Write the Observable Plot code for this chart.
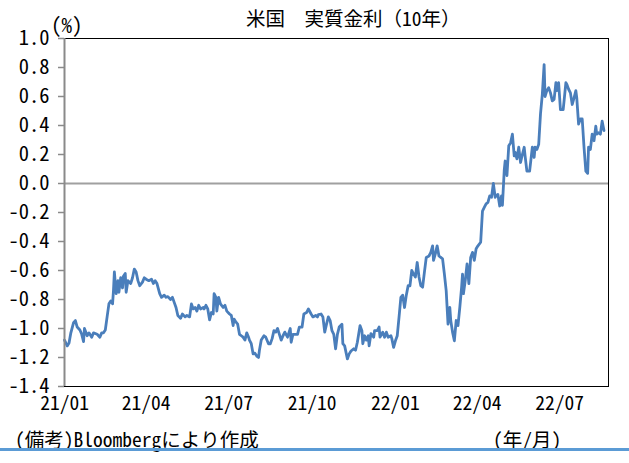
<!DOCTYPE html>
<html>
<head>
<meta charset="utf-8">
<script src="https://cdn.jsdelivr.net/npm/d3@7"></script>
<script src="https://cdn.jsdelivr.net/npm/@observablehq/plot@0.6"></script>
<style>
  html, body { margin: 0; padding: 0; background: #fff; }
  #wrap { position: relative; width: 629px; height: 463px; overflow: hidden; background: #fff; }
  #chart { position: absolute; left: 0; top: 0; }
  .lbl { position: absolute; white-space: nowrap; color: #000;
         font-family: "Noto Sans Mono CJK JP", "Noto Sans CJK JP", monospace; }
  #title { left: 246px; top: 8px; font-size: 19.5px; line-height: 20px; }
  #unit { left: 51px; top: 14px; font-size: 21px; line-height: 21px; }
  #note { left: 15px; top: 429px; font-size: 19.5px; line-height: 20px; }
  #ym { left: 493px; top: 429px; font-size: 19.5px; line-height: 20px; }
  #bar { position: absolute; left: 0; top: 448px; width: 629px; height: 3px; background: #5b9bd5; }
</style>
</head>
<body>
<div id="wrap">
  <div id="chart"></div>
  <div class="lbl" id="title">米国　実質金利（10年）</div>
  <div class="lbl" id="unit">(%)</div>
  <div class="lbl" id="note">(備考)Bloombergにより作成</div>
  <div class="lbl" id="ym">(年/月)</div>
  <div id="bar"></div>
</div>
<script>
const dates = [
"2021-01-01","2021-01-04","2021-01-06","2021-01-08","2021-01-11","2021-01-13","2021-01-15","2021-01-18","2021-01-20","2021-01-22",
"2021-01-23","2021-01-26","2021-01-28","2021-01-31","2021-02-02","2021-02-06","2021-02-09","2021-02-11","2021-02-13","2021-02-15",
"2021-02-17","2021-02-19","2021-02-21","2021-02-23","2021-02-24","2021-02-25","2021-02-27","2021-03-01","2021-03-02","2021-03-04",
"2021-03-06","2021-03-07","2021-03-09","2021-03-10","2021-03-12","2021-03-15","2021-03-17","2021-03-19","2021-03-21","2021-03-23",
"2021-03-25","2021-03-28","2021-03-30","2021-04-01","2021-04-04","2021-04-07","2021-04-09","2021-04-11","2021-04-13","2021-04-16",
"2021-04-18","2021-04-21","2021-04-23","2021-04-25","2021-04-28","2021-04-30","2021-05-02","2021-05-04","2021-05-06","2021-05-09",
"2021-05-11","2021-05-14","2021-05-16","2021-05-19","2021-05-21","2021-05-23","2021-05-25","2021-05-27","2021-05-29","2021-05-31",
"2021-06-03","2021-06-04","2021-06-06","2021-06-08","2021-06-10","2021-06-12","2021-06-14","2021-06-15","2021-06-17","2021-06-18",
"2021-06-20","2021-06-22","2021-06-25","2021-06-27","2021-06-29","2021-07-02","2021-07-04","2021-07-06","2021-07-07","2021-07-09",
"2021-07-11","2021-07-13","2021-07-15","2021-07-17","2021-07-19","2021-07-21","2021-07-23","2021-07-24","2021-07-26","2021-07-28",
"2021-07-30","2021-08-01","2021-08-03","2021-08-04","2021-08-06","2021-08-09","2021-08-11","2021-08-14","2021-08-16","2021-08-18",
"2021-08-20","2021-08-22","2021-08-24","2021-08-26","2021-08-28","2021-08-30","2021-09-01","2021-09-04","2021-09-07","2021-09-08",
"2021-09-10","2021-09-13","2021-09-15","2021-09-17","2021-09-20","2021-09-22","2021-09-25","2021-09-27","2021-09-30","2021-10-02",
"2021-10-05","2021-10-07","2021-10-08","2021-10-11","2021-10-13","2021-10-15","2021-10-17","2021-10-19","2021-10-21","2021-10-23",
"2021-10-25","2021-10-27","2021-10-29","2021-10-31","2021-11-03","2021-11-04","2021-11-06","2021-11-09","2021-11-11","2021-11-13",
"2021-11-16","2021-11-18","2021-11-20","2021-11-23","2021-11-25","2021-11-26","2021-11-28","2021-11-30","2021-12-02","2021-12-03",
"2021-12-05","2021-12-08","2021-12-09","2021-12-12","2021-12-14","2021-12-15","2021-12-18","2021-12-20","2021-12-22","2021-12-24",
"2021-12-27","2021-12-28","2021-12-30","2022-01-01","2022-01-03","2022-01-05","2022-01-07","2022-01-09","2022-01-11","2022-01-13",
"2022-01-15","2022-01-17","2022-01-19","2022-01-21","2022-01-23","2022-01-25","2022-01-27","2022-01-29","2022-01-31","2022-02-02",
"2022-02-04","2022-02-07","2022-02-09","2022-02-11","2022-02-12","2022-02-14","2022-02-16","2022-02-18","2022-02-20","2022-02-22",
"2022-02-24","2022-02-26","2022-02-28","2022-03-02","2022-03-03","2022-03-05","2022-03-07","2022-03-09","2022-03-11","2022-03-13",
"2022-03-15","2022-03-16","2022-03-17","2022-03-19","2022-03-21","2022-03-23","2022-03-25","2022-03-27","2022-03-29","2022-03-31",
"2022-04-02","2022-04-05","2022-04-07","2022-04-09","2022-04-11","2022-04-13","2022-04-15","2022-04-17","2022-04-19","2022-04-21",
"2022-04-22","2022-04-24","2022-04-26","2022-04-28","2022-04-29","2022-05-01","2022-05-02","2022-05-04","2022-05-06","2022-05-08",
"2022-05-10","2022-05-12","2022-05-13","2022-05-15","2022-05-17","2022-05-19","2022-05-21","2022-05-23","2022-05-24","2022-05-26",
"2022-05-29","2022-06-01","2022-06-03","2022-06-04","2022-06-06","2022-06-08","2022-06-10","2022-06-12","2022-06-14","2022-06-15",
"2022-06-17","2022-06-19","2022-06-21","2022-06-23","2022-06-25","2022-06-27","2022-06-28","2022-06-30","2022-07-02","2022-07-05",
"2022-07-06","2022-07-08","2022-07-09","2022-07-11","2022-07-13","2022-07-15","2022-07-17","2022-07-19","2022-07-20","2022-07-22",
"2022-07-24","2022-07-26","2022-07-28","2022-07-30","2022-08-01","2022-08-02","2022-08-04","2022-08-06","2022-08-08","2022-08-10",
"2022-08-11","2022-08-13","2022-08-15","2022-08-17","2022-08-19"
];
const values = [
-1.08,-1.12,-1.10,-1.03,-0.96,-0.945,-0.99,-1.01,-1.04,-1.09,
-1.00,-1.05,-1.03,-1.06,-1.03,-1.04,-1.06,-1.03,-1.03,-1.01,
-0.92,-0.83,-0.81,-0.83,-0.74,-0.61,-0.76,-0.67,-0.75,-0.65,
-0.72,-0.64,-0.62,-0.75,-0.67,-0.69,-0.65,-0.59,-0.61,-0.67,
-0.705,-0.68,-0.65,-0.66,-0.67,-0.66,-0.69,-0.67,-0.69,-0.76,
-0.785,-0.77,-0.785,-0.78,-0.80,-0.785,-0.82,-0.855,-0.91,-0.93,
-0.90,-0.92,-0.91,-0.92,-0.83,-0.865,-0.855,-0.88,-0.84,-0.865,
-0.855,-0.865,-0.84,-0.865,-0.94,-0.89,-0.90,-0.76,-0.785,-0.88,
-0.785,-0.83,-0.855,-0.84,-0.88,-0.90,-0.91,-0.98,-0.935,-0.955,
-0.97,-1.04,-1.05,-1.06,-1.08,-1.03,-1.06,-1.08,-1.105,-1.175,
-1.17,-1.19,-1.20,-1.15,-1.08,-1.05,-1.06,-1.105,-1.105,-1.07,
-1.015,-1.025,-1.00,-1.04,-1.08,-1.05,-1.025,-1.06,-1.00,-1.095,
-1.04,-1.04,-1.04,-0.99,-0.99,-0.90,-0.89,-0.865,-0.90,-0.92,
-0.91,-0.92,-0.905,-0.90,-0.92,-1.025,-0.97,-0.92,-0.945,-1.015,
-1.04,-1.14,-1.04,-0.99,-0.97,-1.105,-1.12,-1.21,-1.175,-1.155,
-1.14,-1.15,-1.095,-0.98,-1.015,-1.105,-1.05,-1.08,-1.05,-1.12,
-1.035,-1.06,-1.015,-1.015,-0.99,-1.06,-1.025,-1.06,-1.025,-1.06,
-1.05,-1.07,-1.13,-1.085,-1.05,-0.92,-0.785,-0.77,-0.855,-0.77,
-0.705,-0.705,-0.60,-0.625,-0.645,-0.545,-0.645,-0.705,-0.715,-0.61,
-0.51,-0.50,-0.475,-0.43,-0.53,-0.485,-0.43,-0.50,-0.51,-0.52,
-0.625,-0.74,-0.97,-0.855,-0.945,-1.025,-1.085,-0.945,-0.98,-0.855,
-0.715,-0.625,-0.76,-0.67,-0.555,-0.69,-0.51,-0.475,-0.53,-0.45,
-0.43,-0.405,-0.19,-0.165,-0.14,-0.13,-0.085,-0.095,0.00,-0.095,
-0.085,-0.075,-0.155,-0.085,-0.15,0.09,0.155,0.055,0.26,0.28,
0.34,0.19,0.215,0.17,0.25,0.145,0.20,0.25,0.19,0.085,
0.085,0.25,0.18,0.25,0.235,0.27,0.48,0.615,0.82,0.60,
0.64,0.66,0.625,0.57,0.58,0.695,0.64,0.695,0.51,0.51,
0.57,0.695,0.685,0.65,0.625,0.545,0.59,0.64,0.59,0.41,
0.445,0.445,0.25,0.085,0.07,0.25,0.235,0.34,0.295,0.395,
0.34,0.35,0.34,0.43,0.365
];
const yTicks = [-1.4, -1.2, -1.0, -0.8, -0.6, -0.4, -0.2, 0.0, 0.2, 0.4, 0.6, 0.8, 1.0];
const xTickDates = ["2021-01-01","2021-04-01","2021-07-01","2021-10-01","2022-01-01","2022-04-01","2022-07-01"];
const xTickLabels = ["21/01","21/04","21/07","21/10","22/01","22/04","22/07"];
const xStart = "2021-01-01";
const xEnd = "2022-08-24";

const n = Math.min(dates.length, values.length);
const data = [];
for (let i = 0; i < n; i++) data.push({date: new Date(dates[i]), value: values[i]});
const xTicks = xTickDates.map(d => new Date(d));
const labelOf = new Map(xTickDates.map((d, i) => [+new Date(d), xTickLabels[i]]));
const mono = '"Noto Sans Mono CJK JP", "DejaVu Sans Mono", monospace';

const chart = Plot.plot({
  width: 629,
  height: 463,
  marginTop: 38,
  marginRight: 21,
  marginBottom: 77,
  marginLeft: 64,
  style: {fontFamily: mono, fontSize: "19.5px", background: "transparent", color: "#000", overflow: "visible"},
  x: {type: "utc", domain: [new Date(xStart), new Date(xEnd)]},
  y: {domain: [-1.4, 1.0]},
  marks: [
    Plot.frame({stroke: "#000", strokeWidth: 1}),
    Plot.ruleY([0], {stroke: "#a0a0a0", strokeWidth: 2}),
    Plot.line(data, {x: "date", y: "value", stroke: "#4a7ebb", strokeWidth: 2.8, strokeLinejoin: "round"}),
    Plot.ruleX([new Date(xStart)], {stroke: "#8a8a8a", strokeWidth: 2}),
    Plot.axisY(yTicks, {tickSize: 6, tickPadding: 9, stroke: "#8a8a8a", strokeWidth: 1.5, fill: "#000",
      fontSize: 20.5, tickFormat: d => d.toFixed(1), label: null}),
    Plot.axisX(xTicks, {tickSize: 0, tickPadding: 10, fill: "#000", tickFormat: d => labelOf.get(+d), label: null})
  ]
});
document.getElementById("chart").appendChild(chart);
</script>
</body>
</html>
